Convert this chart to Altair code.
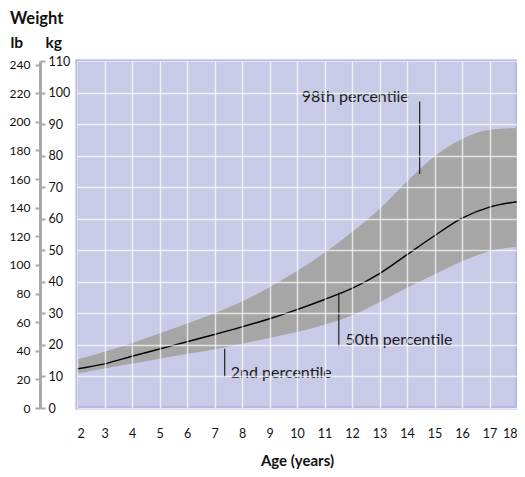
import altair as alt
import pandas as pd

# ---- data ----
ages = list(range(2, 19))
p2 = [10.9, 12.5, 14.0, 15.6, 17.1, 18.6, 20.4, 22.2, 24.1, 26.4, 29.3, 33.5, 38.1, 42.3, 46.5, 49.7, 51.1]
p50 = [12.4, 14.0, 16.4, 18.7, 21.0, 23.3, 25.7, 28.3, 31.2, 34.4, 37.9, 42.6, 48.6, 54.6, 60.2, 63.7, 65.4]
p98 = [15.4, 17.8, 20.6, 23.6, 26.8, 30.0, 33.8, 38.3, 43.4, 49.2, 55.8, 63.1, 71.8, 79.8, 85.3, 88.2, 88.8]

ann_labels = ["98th percentile", "50th percentile", "2nd percentile"]
ann_age = [14.46, 11.52, 7.37]
ann_top = [97.2, 36.5, 18.75]
ann_bot = [74.2, 19.6, 9.9]
text_age = [10.17, 11.76, 7.59]
text_kg = [98.7, 21.4, 11.2]

x_ticks = list(range(2, 19))
kg_ticks = list(range(0, 111, 10))
lb_ticks = list(range(0, 241, 20))
LB_PER_KG = 2.20462

df = pd.DataFrame({"age": ages, "p2": p2, "p50": p50, "p98": p98})
df["lb"] = df["p50"] * LB_PER_KG
ann = pd.DataFrame({"label": ann_labels, "age": ann_age, "top": ann_top, "bot": ann_bot,
                    "tage": text_age, "tkg": text_kg})

W, H = 440, 347
FONT = "Lato"
GRAY = "#a9a9a9"

xscale = alt.Scale(domain=[2, 18], nice=False, zero=False)
yscale = alt.Scale(domain=[0, 110], nice=False, zero=False)

x_axis = alt.Axis(values=x_ticks, grid=True, gridColor="white", gridOpacity=0.7, gridWidth=1.5,
                  ticks=False, tickSize=0, domain=False, labelPadding=19, labelFontSize=12.5,
                  labelColor="#111111", labelFont=FONT, title="Age (years)", titleFontSize=15,
                  titleFontWeight="bold", titleColor="#111111", titleFont=FONT, titlePadding=14,
                  zindex=1)
kg_axis = alt.Axis(orient="right", offset=-(W + 37), values=kg_ticks, grid=True, gridColor="white",
                   gridOpacity=0.7, gridWidth=1.5, domain=False, ticks=True, tickSize=5,
                   tickColor=GRAY, tickWidth=2, labelPadding=3, labelFontSize=12.5,
                   labelColor="#111111", labelFont=FONT, title="kg", titleAngle=0, titleX=5,
                   titleY=-19, titleAlign="left", titleBaseline="middle", titleFontSize=15.5,
                   titleFontWeight="bold", titleColor="#111111", titleFont=FONT, zindex=1)
lb_axis = alt.Axis(orient="left", offset=37, values=lb_ticks, grid=False, domain=True,
                   domainColor=GRAY, domainWidth=3, ticks=True, tickSize=5, tickColor=GRAY,
                   tickWidth=2, labelPadding=5, labelFontSize=12, labelColor="#111111",
                   labelFont=FONT, title="lb", titleAngle=0, titleX=-30, titleY=-19,
                   titleAlign="left", titleBaseline="middle", titleFontSize=15.5,
                   titleFontWeight="bold", titleColor="#111111", titleFont=FONT)

X = alt.X("age:Q", scale=xscale, axis=x_axis)

band = alt.Chart(df).mark_area(color="#a6a6a6", interpolate="monotone").encode(
    x=X, y=alt.Y("p98:Q", scale=yscale, axis=kg_axis), y2="p2:Q")
line = alt.Chart(df).mark_line(color="black", strokeWidth=1.4, interpolate="monotone").encode(
    x=X, y=alt.Y("p50:Q", scale=yscale, axis=kg_axis))
rules = alt.Chart(ann).mark_rule(color="#222222", strokeWidth=1.2).encode(
    x=alt.X("age:Q", scale=xscale, axis=x_axis),
    y=alt.Y("top:Q", scale=yscale, axis=kg_axis), y2="bot:Q")
texts = alt.Chart(ann).mark_text(align="left", baseline="middle", fontSize=16, font=FONT,
                                 color="#1a1a1a").encode(
    x=alt.X("tage:Q", scale=xscale, axis=x_axis),
    y=alt.Y("tkg:Q", scale=yscale, axis=kg_axis), text="label:N")

kg_layer = alt.layer(band, line, rules, texts)

lb_layer = alt.Chart(df).mark_point(opacity=0).encode(
    x=X, y=alt.Y("lb:Q", scale=alt.Scale(domain=[0, 110 * LB_PER_KG], nice=False, zero=False),
                  axis=lb_axis))

chart = alt.layer(kg_layer, lb_layer).resolve_scale(y="independent").properties(
    width=W, height=H,
    title=alt.TitleParams("Weight", anchor="start", frame="group", dx=-67, fontSize=16.5,
                          fontWeight="bold", font=FONT, color="#111111", offset=8),
    autosize=alt.AutoSizeParams(type="none"),
    padding={"left": 69, "top": 53, "right": 0, "bottom": 61},
).configure_view(fill="#c9cae7", stroke="#a8abd9", strokeWidth=3)

chart.save("out.html", embed_options={"renderer": "svg", "actions": False})
